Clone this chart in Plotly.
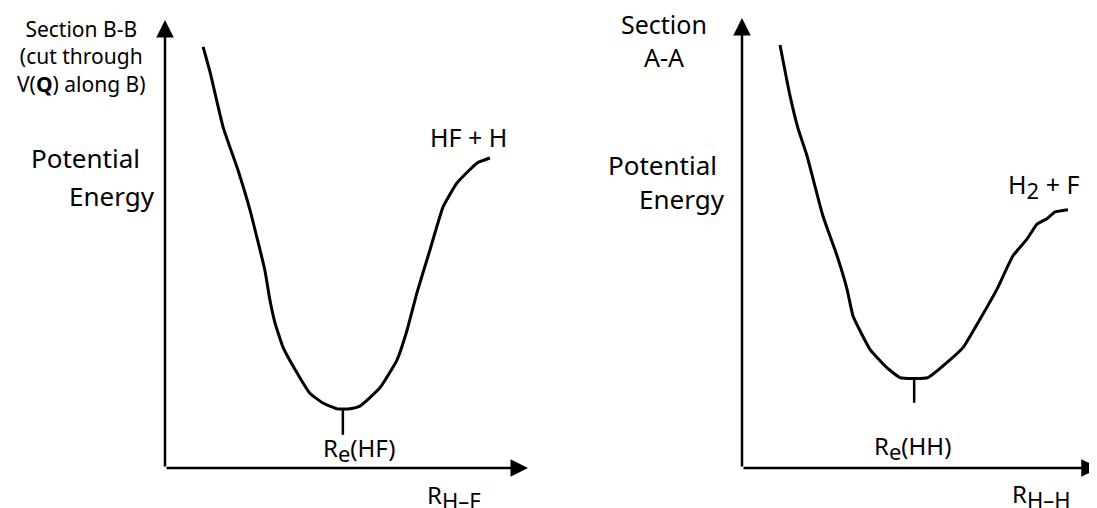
import plotly.graph_objects as go

# ---------------- data (arbitrary units) ----------------
# Section B-B : cut along R(H-F)
hf_r = [1.05, 1.24, 1.60, 2.01, 2.34, 2.75, 2.89, 3.03, 3.25, 3.64, 3.99, 4.35,
        4.74, 5.10, 5.37, 5.92, 6.39, 6.67, 6.94, 7.30, 7.66, 8.04, 8.60, 8.95]
hf_v = [9.40, 8.84, 7.61, 6.65, 5.76, 4.42, 3.75, 3.24, 2.70, 2.12, 1.67, 1.45,
        1.32, 1.32, 1.38, 1.79, 2.41, 3.08, 3.91, 4.87, 5.83, 6.36, 6.81, 6.92]
hf_re = 4.90
hf_re_tick = [1.32, 0.74]

# Section A-A : cut along R(H-H)
hh_r = [1.07, 1.35, 1.58, 1.83, 2.28, 2.68, 2.96, 3.13, 3.61, 4.08, 4.45, 4.82,
        5.24, 5.77, 6.23, 6.70, 7.18, 7.63, 8.03, 8.31, 8.59, 8.82, 9.18]
hh_v = [9.40, 8.28, 7.54, 6.94, 5.60, 4.71, 3.97, 3.37, 2.63, 2.23, 2.01, 1.99,
        2.01, 2.34, 2.68, 3.30, 3.97, 4.71, 5.09, 5.42, 5.54, 5.69, 5.74]
hh_re = 4.85
hh_re_tick = [1.99, 1.45]

# page body has an 8px margin: build the figure 8px smaller and shift positions
OFF = 8
W, H = 1097 - OFF, 508 - OFF
LINE = dict(color="black", width=3)


def px(v):
    return (v - OFF) / W


def py(v):
    return 1 - (v - OFF) / H


fig = go.Figure()
fig.add_trace(go.Scatter(x=hf_r, y=hf_v, mode="lines", line=dict(shape="spline", smoothing=0.4, **LINE),
                         xaxis="x", yaxis="y", hoverinfo="skip"))
fig.add_trace(go.Scatter(x=[hf_re, hf_re], y=hf_re_tick, mode="lines", line=dict(color="black", width=2.5),
                         xaxis="x", yaxis="y", hoverinfo="skip"))
fig.add_trace(go.Scatter(x=hh_r, y=hh_v, mode="lines", line=dict(shape="spline", smoothing=0.4, **LINE),
                         xaxis="x2", yaxis="y2", hoverinfo="skip"))
fig.add_trace(go.Scatter(x=[hh_re, hh_re], y=hh_re_tick, mode="lines", line=dict(color="black", width=2.5),
                         xaxis="x2", yaxis="y2", hoverinfo="skip"))

ax_common = dict(range=[0, 10], visible=False, fixedrange=True)
fig.update_layout(
    width=W, height=H, margin=dict(l=0, r=0, t=0, b=0),
    paper_bgcolor="white", plot_bgcolor="white", showlegend=False,
    xaxis=dict(domain=[px(165), px(528)], anchor="y", **ax_common),
    yaxis=dict(domain=[py(468), py(20)], anchor="x", **ax_common),
    xaxis2=dict(domain=[px(742), 1.0], anchor="y2", **ax_common),
    yaxis2=dict(domain=[py(468), py(18)], anchor="x2", **ax_common),
)


# axis arrows
def arrow(xr, yr, x, y, ax, ay):
    fig.add_annotation(x=x, y=y, ax=ax, ay=ay, xref=xr, yref=yr, axref=xr, ayref=yr,
                       text="", showarrow=True, arrowhead=2, arrowsize=1.4, arrowwidth=2.5,
                       arrowcolor="black", standoff=0, startstandoff=0)


arrow("x", "y", 0, 10, 0, 0)
arrow("x", "y", 10, 0, 0, 0)
arrow("x2", "y2", 0, 10, 0, 0)
arrow("x2", "y2", 10.05, 0, 0, 0)

SEC = "Noto Sans"
LAB = "Noto Sans"


def label(text, x, y, size, family=LAB, xanchor="center", yanchor="middle"):
    fig.add_annotation(x=px(x), y=py(y), xref="paper", yref="paper", text=text,
                       showarrow=False, xanchor=xanchor, yanchor=yanchor, align="center",
                       borderpad=0,
                       font=dict(family=family, size=size, color="black"))


SUB = '<sub><span style="font-size:22px">%s</span></sub>'

# left panel texts
label("Section B-B<br>(cut through<br>V(<b>Q</b>) along B)", 81, 57, 21, SEC)
label("Potential", 85, 158, 26)
label("Energy", 112, 196, 26)
label("HF + H", 468, 137, 25)
label("R" + SUB % "e" + "(HF)", 322, 449, 24, xanchor="left")
label("R" + SUB % "H\u2013F", 426, 496, 24, xanchor="left")

# right panel texts
label("Section<br>A-A", 664, 40, 25)
label("Potential", 662, 165, 26)
label("Energy", 682, 199, 26)
label("H" + SUB % "2" + " + F", 1007, 186, 25, xanchor="left")
label("R" + SUB % "e" + "(HH)", 873, 447, 24, xanchor="left")
label("R" + SUB % "H\u2013H", 1011, 495, 24, xanchor="left")

fig.write_html("out.html")
